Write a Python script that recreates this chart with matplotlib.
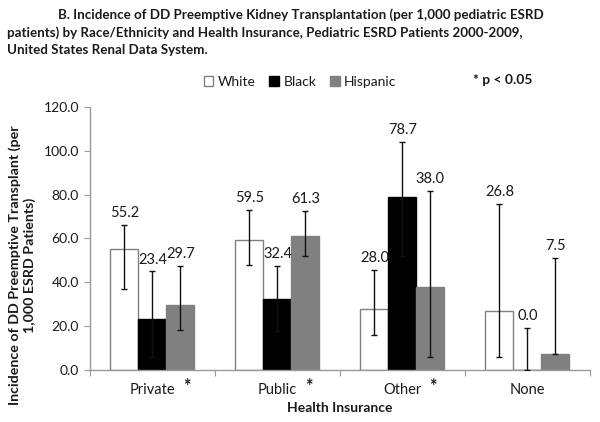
import matplotlib
matplotlib.use("Agg")
import matplotlib.pyplot as plt
import numpy as np
from matplotlib.patches import Patch

plt.rcParams['font.family'] = ['Lato', 'DejaVu Sans']

categories = ["Private", "Public", "Other", "None"]
significant = [True, True, True, False]
series = ["White", "Black", "Hispanic"]
values = {
    "White":    [55.2, 59.5, 28.0, 26.8],
    "Black":    [23.4, 32.4, 78.7, 0.0],
    "Hispanic": [29.7, 61.3, 38.0, 7.5],
}
ci_low = {
    "White":    [37.1, 47.7, 15.9, 5.8],
    "Black":    [6.0, 18.0, 52.0, 0.0],
    "Hispanic": [18.2, 51.8, 6.1, 7.4],
}
ci_high = {
    "White":    [66.2, 73.0, 45.8, 75.8],
    "Black":    [45.0, 47.4, 104.1, 19.4],
    "Hispanic": [47.4, 72.7, 81.8, 51.2],
}
face = {"White": "white", "Black": "black", "Hispanic": "#808080"}
edge = {"White": "#808080", "Black": "black", "Hispanic": "#808080"}
TXT = '#1a1a1a'

fig = plt.figure(figsize=(6, 4.22), dpi=100)
ax = fig.add_axes([0.15, 0.123, 0.833, 0.624])

x = np.arange(len(categories))
w = 0.224
for i, s in enumerate(series):
    xs = x + (i - 1) * w
    v = np.array(values[s])
    lo = np.array(ci_low[s])
    hi = np.array(ci_high[s])
    ax.bar(xs, v, width=w, color=face[s], edgecolor=edge[s], linewidth=1.0, zorder=2)
    ax.errorbar(xs, v, yerr=[v - lo, hi - v], fmt='none', ecolor='#111111',
                elinewidth=1.0, capsize=2, capthick=1.0, zorder=3)
    for xi, vi, hii in zip(xs, v, hi):
        ax.annotate(f"{vi:.1f}", (xi, hii), xytext=(0, 8.5), textcoords='offset points',
                    ha='center', va='center', fontsize=10.5, color=TXT)

ax.set_xlim(-0.5, len(categories) - 0.5)
ax.set_ylim(0, 120)
ax.set_yticks(np.arange(0, 121, 20))
ax.set_yticklabels([f"{t:.1f}" for t in np.arange(0, 121, 20)], fontsize=10, color=TXT)
ax.set_xticks(np.arange(-0.5, len(categories), 1.0))
ax.set_xticklabels([])
ax.tick_params(axis='x', length=4, color='#999999', direction='out')
ax.tick_params(axis='y', length=4, color='#999999', direction='out', pad=4)
for sp in ['top', 'right']:
    ax.spines[sp].set_visible(False)
for sp in ['left', 'bottom']:
    ax.spines[sp].set_color('#999999')
    ax.spines[sp].set_linewidth(1.0)

for xi, c, sig in zip(x, categories, significant):
    lab = ax.annotate(c, (xi, 0), xytext=(0, -14.5), textcoords='offset points',
                      ha='center', va='center', fontsize=10.5, color=TXT,
                      annotation_clip=False)
    if sig:
        ax.annotate("*", xy=(1, 0.5), xycoords=lab, xytext=(8.5, 3), textcoords='offset points',
                    ha='center', va='center', fontsize=13, fontweight='bold', color=TXT,
                    annotation_clip=False)

fig.text(340 / 600, 1 - 408 / 422, "Health Insurance", fontsize=10,
         fontweight='bold', ha='center', va='center', color=TXT)
fig.text(22 / 600, 1 - 265 / 422, "Incidence of DD Preemptive Transplant (per\n1,000 ESRD Patients)",
         fontsize=10.3, fontweight='bold', rotation=90, ha='center', va='center',
         multialignment='center', linespacing=1.25, color=TXT)

tfs = 9.65
fig.text(58 / 600, 1 - 15 / 422, "B. Incidence of DD Preemptive Kidney Transplantation (per 1,000 pediatric ESRD",
         fontsize=tfs, fontweight='bold', va='center', ha='left', color=TXT)
fig.text(7 / 600, 1 - 33 / 422, "patients) by Race/Ethnicity and Health Insurance, Pediatric ESRD Patients 2000-2009,",
         fontsize=tfs, fontweight='bold', va='center', ha='left', color=TXT)
fig.text(7 / 600, 1 - 50 / 422, "United States Renal Data System.",
         fontsize=tfs, fontweight='bold', va='center', ha='left', color=TXT)

handles = [Patch(facecolor=face[s], edgecolor=edge[s], label=s) for s in series]
fig.legend(handles=handles, loc='center', bbox_to_anchor=(0.5, 1 - 82 / 422), ncol=3,
           frameon=False, fontsize=10, handlelength=0.7, handleheight=0.7,
           handletextpad=0.3, columnspacing=1.0, borderpad=0, labelcolor=TXT)
fig.text(473 / 600, 1 - 80 / 422, "* p < 0.05", fontsize=10, fontweight='bold',
         va='center', ha='left', color=TXT)

fig.savefig("out.png", dpi=100)
